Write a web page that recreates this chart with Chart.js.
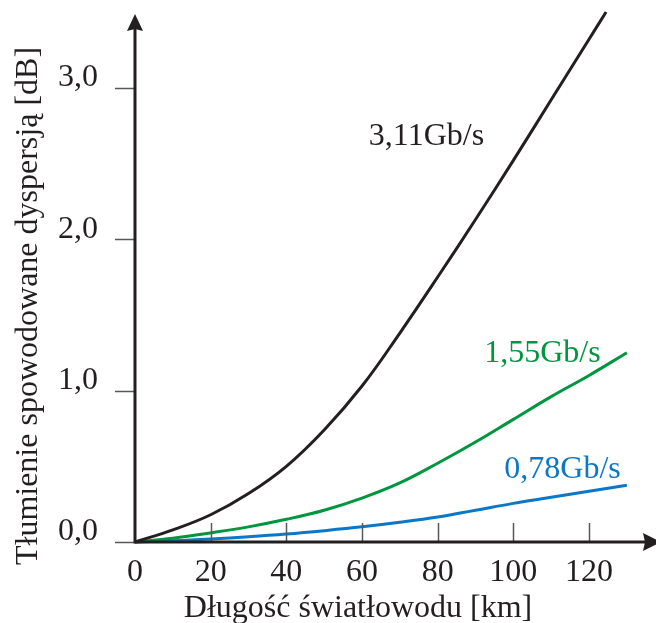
<!DOCTYPE html>
<html>
<head>
<meta charset="utf-8">
<script src="https://cdn.jsdelivr.net/npm/chart.js@4/dist/chart.umd.min.js"></script>
<style>
  html, body { margin: 0; padding: 0; background: #fff; }
</style>
</head>
<body>
<canvas id="lossChart" width="656" height="623"></canvas>
<script>
/* ══════════════════════════════════════
   DATA
══════════════════════════════════════ */
const distanceKm = [0, 10, 20, 30, 40, 50, 60, 70, 80, 90, 100, 110, 120, 130];
const distanceKmFast = [0, 10, 20, 30, 40, 50, 60, 70, 80, 90, 100, 110, 120, 124.5];

const loss311 = [0, 0.08, 0.18, 0.32, 0.50, 0.74, 1.03, 1.38, 1.75, 2.13, 2.52, 2.92, 3.32, 3.50];
const loss155 = [0, 0.025, 0.06, 0.10, 0.15, 0.21, 0.29, 0.39, 0.52, 0.66, 0.81, 0.96, 1.10, 1.25];
const loss078 = [0, 0.008, 0.02, 0.035, 0.053, 0.075, 0.10, 0.13, 0.165, 0.21, 0.255, 0.295, 0.335, 0.375];

const seriesNames = ["3,11Gb/s", "1,55Gb/s", "0,78Gb/s"];

const xTicks = [0, 20, 40, 60, 80, 100, 120];
const yTicks = [0, 1, 2, 3];

const xTitle = "Długość światłowodu [km]";
const yTitle = "Tłumienie spowodowane dyspersją [dB]";

/* ══════════════════════════════════════
   STYLE
══════════════════════════════════════ */
const SERIF = '"Liberation Serif", "Times New Roman", serif';
const INK = "#231f20";
const GREEN = "#00963f";
const BLUE = "#0a78c6";
const TICK = "#58595b";

const points = (xs, ys) => xs.map((x, i) => ({ x, y: ys[i] }));

// keep the plot box fixed: no extra room for overhanging tick labels
const noScalePadding = (s) => {
  s.paddingTop = 0;
  s.paddingBottom = 0;
  s.paddingLeft = 0;
  s.paddingRight = 0;
};

/* ══════════════════════════════════════
   AXES, ARROWS, TITLES, CURVE LABELS
══════════════════════════════════════ */
const axesPlugin = {
  id: "arrowAxes",

  afterDatasetsDraw(chart) {
    const { ctx, scales: { x, y } } = chart;
    const x0 = x.getPixelForValue(0);
    const y0 = y.getPixelForValue(0);

    ctx.save();

    // tick marks
    ctx.strokeStyle = TICK;
    ctx.lineWidth = 1.5;
    ctx.beginPath();
    yTicks.forEach((v) => {
      const py = Math.round(y.getPixelForValue(v)) + 0.5;
      ctx.moveTo(x0 - 20, py);
      ctx.lineTo(x0, py);
    });
    xTicks.filter((v) => v > 0).forEach((v) => {
      const px = Math.round(x.getPixelForValue(v)) + 0.5;
      ctx.moveTo(px, y0);
      ctx.lineTo(px, y0 - 19);
    });
    ctx.stroke();

    // axis lines
    ctx.strokeStyle = INK;
    ctx.fillStyle = INK;
    ctx.lineWidth = 3;
    ctx.beginPath();
    ctx.moveTo(x0, y0 + 1.5);
    ctx.lineTo(x0, 28);
    ctx.moveTo(x0 - 1.5, y0);
    ctx.lineTo(645, y0);
    ctx.stroke();

    // arrow heads
    ctx.beginPath();
    ctx.moveTo(x0, 14);
    ctx.lineTo(x0 + 8, 31);
    ctx.lineTo(x0, 29);
    ctx.lineTo(x0 - 8, 31);
    ctx.closePath();
    ctx.fill();

    ctx.beginPath();
    ctx.moveTo(661, y0);
    ctx.lineTo(643, y0 - 9);
    ctx.lineTo(645, y0);
    ctx.lineTo(643, y0 + 9);
    ctx.closePath();
    ctx.fill();

    // axis titles
    ctx.font = `32px ${SERIF}`;
    ctx.fillStyle = INK;
    ctx.textAlign = "center";
    ctx.textBaseline = "alphabetic";
    ctx.fillText(xTitle, 358, 617);

    ctx.save();
    ctx.translate(37, 306);
    ctx.rotate(-Math.PI / 2);
    ctx.fillText(yTitle, 0, 0);
    ctx.restore();

    // curve labels
    ctx.textAlign = "left";
    chart.data.datasets.forEach((ds) => {
      const [lx, ly] = ds.labelAt;
      ctx.fillStyle = ds.borderColor;
      ctx.fillText(ds.label, x.getPixelForValue(lx), y.getPixelForValue(ly));
    });

    ctx.restore();
  },
};

/* ══════════════════════════════════════
   CHART
══════════════════════════════════════ */
new Chart(document.getElementById("lossChart"), {
  type: "line",

  data: {
    datasets: [
      {
        label: seriesNames[0],
        data: points(distanceKmFast, loss311),
        borderColor: INK,
        borderWidth: 3,
        labelAt: [61.8, 2.62],
      },
      {
        label: seriesNames[1],
        data: points(distanceKm, loss155),
        borderColor: GREEN,
        borderWidth: 3,
        labelAt: [92.3, 1.19],
      },
      {
        label: seriesNames[2],
        data: points(distanceKm, loss078),
        borderColor: BLUE,
        borderWidth: 3,
        labelAt: [97.6, 0.42],
      },
    ],
  },

  options: {
    responsive: false,
    animation: false,
    layout: { padding: { top: 12, right: 0, bottom: 0, left: 0 } },

    elements: {
      point: { radius: 0 },
      line: { tension: 0.4, fill: false, capBezierPoints: false },
    },

    datasets: { line: { clip: false } },

    plugins: {
      legend: { display: false },
      tooltip: { enabled: false },
    },

    scales: {
      x: {
        type: "linear",
        min: 0,
        max: 137.7,
        afterBuildTicks: (s) => { s.ticks = xTicks.map((v) => ({ value: v })); },
        afterFit: (s) => { s.height = 81; noScalePadding(s); },
        grid: { display: false, drawTicks: false },
        border: { display: false },
        ticks: {
          padding: 11,
          maxRotation: 0,
          autoSkip: false,
          color: INK,
          font: { family: SERIF, size: 32 },
          callback: (v) => String(v),
        },
      },

      y: {
        type: "linear",
        min: 0,
        max: 3.5,
        afterBuildTicks: (s) => { s.ticks = yTicks.map((v) => ({ value: v })); },
        afterFit: (s) => { s.width = 135; noScalePadding(s); },
        grid: { display: false, drawTicks: false },
        border: { display: false },
        ticks: {
          padding: 37,
          labelOffset: -10,
          autoSkip: false,
          color: INK,
          font: { family: SERIF, size: 32 },
          callback: (v) => v.toFixed(1).replace(".", ","),
        },
      },
    },
  },

  plugins: [axesPlugin],
});
</script>
</body>
</html>
